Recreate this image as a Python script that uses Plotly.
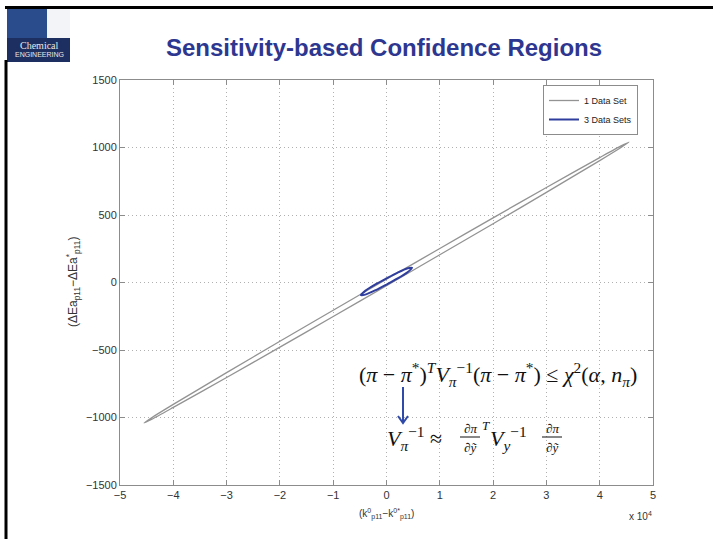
import plotly.graph_objects as go

# ---- data (x in units of 1e4) ----
gray_x = [-4.55, -4.4, -4.0, -3.0, -2.0, -1.0, 0.0, 1.0, 2.0, 3.0, 4.0, 4.4, 4.55,
          4.4, 4.0, 3.0, 2.0, 1.0, 0.0, -1.0, -2.0, -3.0, -4.0, -4.4, -4.55]
gray_y = [-1040, -1000, -903, -668, -435, -206, 24, 252, 479, 704, 925, 1012, 1040,
          1000, 903, 668, 435, 206, -24, -252, -479, -704, -925, -1012, -1040]

blue_x = [-0.48, -0.4, -0.2, 0.0, 0.2, 0.4, 0.48, 0.4, 0.2, 0.0, -0.2, -0.4, -0.48]
blue_y = [-93, -62, -12, 31, 72, 106, 109, 78, 28, -15, -56, -90, -93]

x_ticks = [-5, -4, -3, -2, -1, 0, 1, 2, 3, 4, 5]
y_ticks = [-1500, -1000, -500, 0, 500, 1000, 1500]
series_names = ["1 Data Set", "3 Data Sets"]

W, H = 713, 539
L, R, T, B = 120, 653, 80, 485


def fx(p):
    return (p - L) / (R - L)


def fy(p):
    return (B - p) / (B - T)


fig = go.Figure()
fig.add_trace(go.Scatter(x=gray_x, y=gray_y, mode="lines", name=series_names[0],
                         line=dict(color="#939393", width=1.3, shape="spline", smoothing=0.6)))
fig.add_trace(go.Scatter(x=blue_x, y=blue_y, mode="lines", name=series_names[1],
                         line=dict(color="#2f3e9e", width=2, shape="spline", smoothing=0.8)))

axis_common = dict(showline=True, linecolor="#8c8c8c", linewidth=1, mirror="ticks",
                   ticks="inside", ticklen=5, tickcolor="#8c8c8c",
                   showgrid=True, gridcolor="#b0b0b0", griddash="1px,3px", gridwidth=1,
                   zeroline=False, tickfont=dict(family="Liberation Sans, Arial", size=11, color="#333"))

fig.update_xaxes(range=[-5, 5], tickvals=x_ticks, ticktext=[str(v).replace("-", "\u2212") for v in x_ticks],
                 **axis_common)
fig.update_yaxes(range=[-1500, 1500], tickvals=y_ticks,
                 ticktext=[str(v).replace("-", "\u2212") for v in y_ticks], **axis_common)

ann = []
# title
ann.append(dict(text="<b>Sensitivity-based Confidence Regions</b>", xref="paper", yref="paper",
                x=fx(384), y=fy(47), xanchor="center", yanchor="middle", showarrow=False,
                font=dict(family="Liberation Sans, Arial", size=24, color="#2e3790")))
# axis labels
ann.append(dict(text="(ΔEa<sub>p11</sub>−ΔEa<sup>*</sup><sub>p11</sub>)", xref="paper", yref="paper",
                x=fx(73), y=fy(282), textangle=-90, xanchor="center", yanchor="middle", showarrow=False,
                font=dict(family="Liberation Sans, Arial", size=12, color="#333")))
ann.append(dict(text="(k<sup>0</sup><sub>p11</sub>−k<sup>0*</sup><sub>p11</sub>)", xref="paper", yref="paper",
                x=fx(386), y=fy(514), xanchor="center", yanchor="middle", showarrow=False,
                font=dict(family="Liberation Sans, Arial", size=10, color="#333")))
ann.append(dict(text="x 10<sup>4</sup>", xref="paper", yref="paper",
                x=fx(640), y=fy(516), xanchor="center", yanchor="middle", showarrow=False,
                font=dict(family="Liberation Sans, Arial", size=10, color="#333")))

mf = "Liberation Serif, Times New Roman, serif"
# formula 1
ann.append(dict(text="(<i>π</i> − <i>π</i><sup>*</sup>)<sup><i>T</i></sup><i>V</i><sub><i>π</i></sub><sup>−1</sup>"
                     "(<i>π</i> − <i>π</i><sup>*</sup>) ≤ <i>χ</i><sup>2</sup>(<i>α</i>, <i>n</i><sub><i>π</i></sub>)",
                xref="paper", yref="paper", x=fx(357), y=fy(374), xanchor="left", yanchor="middle",
                showarrow=False, font=dict(family=mf, size=22, color="#111")))
# formula 2 pieces
ann.append(dict(text="<i>V</i><sub><i>π</i></sub><sup>−1</sup> ≈", xref="paper", yref="paper",
                x=fx(385), y=fy(438), xanchor="left", yanchor="middle", showarrow=False,
                font=dict(family=mf, size=22, color="#111")))
frac_centers = (470, 552)
for cx in frac_centers:
    ann.append(dict(text="∂<i>π</i>", xref="paper", yref="paper", x=fx(cx), y=fy(428),
                    xanchor="center", yanchor="middle", showarrow=False,
                    font=dict(family=mf, size=13, color="#111")))
    ann.append(dict(text="∂<i>ỹ</i>", xref="paper", yref="paper", x=fx(cx), y=fy(447),
                    xanchor="center", yanchor="middle", showarrow=False,
                    font=dict(family=mf, size=13, color="#111")))
ann.append(dict(text="<i>T</i>", xref="paper", yref="paper", x=fx(480), y=fy(425),
                xanchor="left", yanchor="middle", showarrow=False,
                font=dict(family=mf, size=13, color="#111")))
ann.append(dict(text="<i>V</i><sub><i>y</i></sub><sup>−1</sup>", xref="paper", yref="paper",
                x=fx(488), y=fy(438), xanchor="left", yanchor="middle", showarrow=False,
                font=dict(family=mf, size=22, color="#111")))
# logo text
ann.append(dict(text="Chemical", xref="paper", yref="paper", x=fx(39), y=fy(45),
                xanchor="center", yanchor="middle", showarrow=False,
                font=dict(family=mf, size=10, color="#e8e8e8")))
ann.append(dict(text="ENGINEERING", xref="paper", yref="paper", x=fx(39), y=fy(55),
                xanchor="center", yanchor="middle", showarrow=False,
                font=dict(family="Liberation Sans Narrow, Liberation Sans", size=7, color="#e8e8e8")))

shapes = []
# slide borders
shapes.append(dict(type="line", xref="paper", yref="paper", x0=fx(5), x1=fx(713), y0=fy(7.5), y1=fy(7.5),
                   line=dict(color="black", width=3)))
shapes.append(dict(type="line", xref="paper", yref="paper", x0=fx(6), x1=fx(6), y0=fy(60), y1=fy(539),
                   line=dict(color="black", width=3)))
# logo
shapes.append(dict(type="rect", xref="paper", yref="paper", x0=fx(7), x1=fx(70), y0=fy(8), y1=fy(62),
                   fillcolor="#f2f4f7", line=dict(width=0), layer="below"))
shapes.append(dict(type="rect", xref="paper", yref="paper", x0=fx(7), x1=fx(47), y0=fy(8), y1=fy(40),
                   fillcolor="#2b4c8c", line=dict(width=0), layer="below"))
shapes.append(dict(type="rect", xref="paper", yref="paper", x0=fx(7), x1=fx(70), y0=fy(38), y1=fy(62),
                   fillcolor="#1c2f60", line=dict(width=0), layer="below"))
# arrow
ax0, ay0, ay1 = 403, 387, 423
shapes.append(dict(type="line", xref="paper", yref="paper", x0=fx(ax0), x1=fx(ax0), y0=fy(ay0), y1=fy(ay1),
                   line=dict(color="#2f4aa8", width=2)))
shapes.append(dict(type="path", xref="paper", yref="paper",
                   path=f"M {fx(ax0-5)},{fy(ay1-7)} L {fx(ax0)},{fy(ay1)} L {fx(ax0+5)},{fy(ay1-7)}",
                   line=dict(color="#2f4aa8", width=2)))
# fraction bars
for cx in frac_centers:
    shapes.append(dict(type="line", xref="paper", yref="paper", x0=fx(cx - 10), x1=fx(cx + 10),
                       y0=fy(437), y1=fy(437), line=dict(color="#111", width=1)))

fig.update_layout(
    width=W, height=H,
    margin=dict(l=L, r=W - R, t=T, b=H - B),
    paper_bgcolor="white", plot_bgcolor="white",
    annotations=ann, shapes=shapes,
    legend=dict(x=fx(543), y=fy(85), xanchor="left", yanchor="top",
                bgcolor="white", bordercolor="#8c8c8c", borderwidth=1,
                font=dict(family="Liberation Sans, Arial", size=9, color="#222"),
                itemwidth=30, tracegroupgap=0),
    showlegend=True,
)

fig.write_html("out.html")
